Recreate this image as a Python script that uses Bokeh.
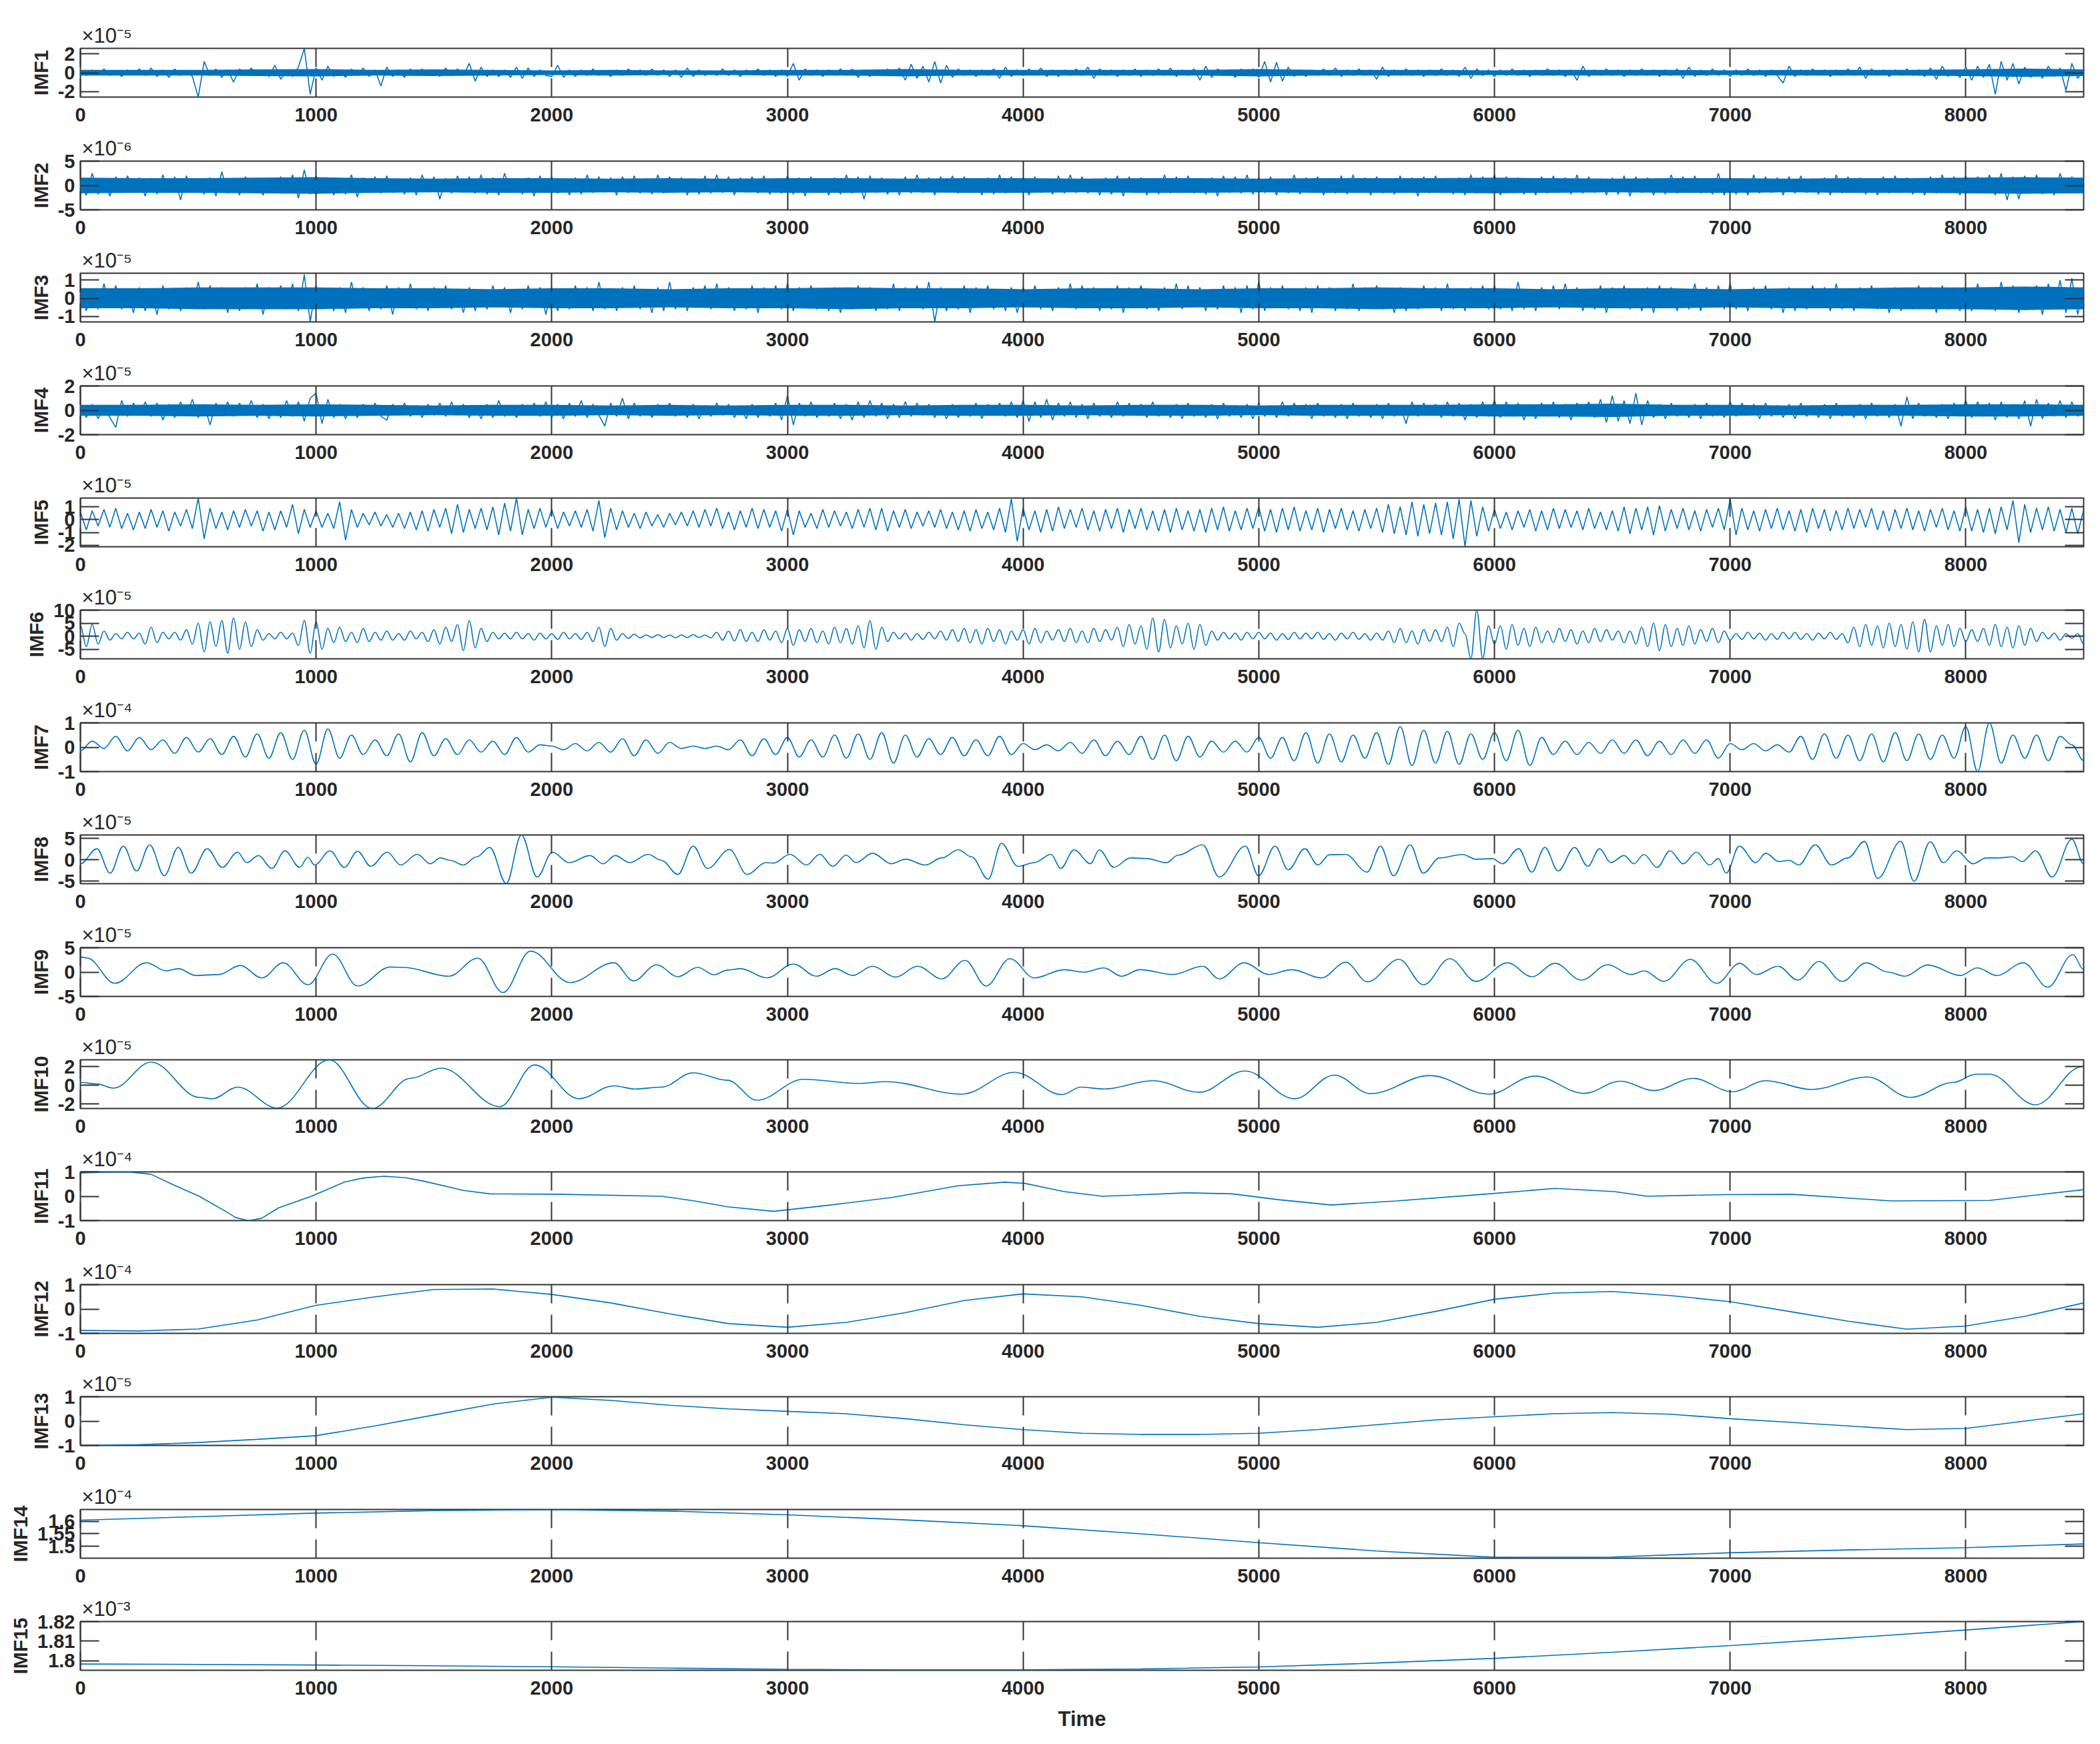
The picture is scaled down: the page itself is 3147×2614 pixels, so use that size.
from bokeh.plotting import figure
from bokeh.layouts import column
from bokeh.models import Range1d, FixedTicker, LinearAxis, Title, CustomJSTickFormatter
from bokeh.embed import file_html
from bokeh.resources import INLINE

# ---------------- data (display units; the exponent is shown above each panel) -------------
NAMES = ["IMF1", "IMF2", "IMF3", "IMF4", "IMF5", "IMF6", "IMF7", "IMF8", "IMF9", "IMF10",
         "IMF11", "IMF12", "IMF13", "IMF14", "IMF15"]
EXPONENTS = ["-5", "-6", "-5", "-5", "-5", "-5", "-4", "-5", "-5", "-5", "-4", "-4", "-5", "-4", "-3"]
Y_LIMITS = [(-2.6, 2.6), (-5, 5), (-1.3, 1.38), (-2, 2), (-2.12, 1.69), (-8.65, 10), (-1, 1),
            (-5.55, 5.8), (-5, 5), (-2.5, 2.75), (-1, 1), (-1, 1), (-1, 1), (1.4534, 1.6463),
            (1.7951, 1.82)]
Y_TICKS = [[-2, 0, 2], [-5, 0, 5], [-1, 0, 1], [-2, 0, 2], [-2, -1, 0, 1], [-5, 0, 5, 10],
           [-1, 0, 1], [-5, 0, 5], [-5, 0, 5], [-2, 0, 2], [-1, 0, 1], [-1, 0, 1], [-1, 0, 1],
           [1.5, 1.55, 1.6], [1.8, 1.81, 1.82]]
X_TICKS = [0, 1000, 2000, 3000, 4000, 5000, 6000, 7000, 8000]
X_MAX = 8500

# IMF1..IMF6: values every 25 samples, in tenths of the panel unit
IMF1_T = [2,-3,3,-2,4,-3,2,-4,3,-2, 4,-3,5,-4,3,-5,4,-3,2,-4, -26,12,-3,4,-5,3,-10,4,-3,5, -2,3,-4,8,-7,3,-4,6,26,-23,
          5,-8,7,-4,3,-5,4,-3,5,-4, 3,-14,6,-4,3,-5,4,-3,4,-3, 3,-4,5,-3,4,-3,10,-9,6,-4, 3,-4,3,-5,6,-6,5,-4,3,-3,
          -4,8,-5,3,-4,3,-3,4,-3,2, -4,3,-3,4,-2,3,-3,4,-3,3, -4,3,-5,5,-4,3,-3,2,-3,4, -3,3,-4,3,-2,4,-3,3,-4,3,
          -4,10,-8,4,-3,3,-4,3,-3,4, -3,4,-5,3,-4,3,-3,4,-3,5, -8,9,-6,7,-10,12,-11,8,-5,4, -3,3,-4,3,-3,4,-6,6,-4,3,
          -3,4,-3,5,-4,3,-4,3,-3,4, -3,6,-6,4,-3,3,-4,3,-3,4, -4,3,-3,4,-3,5,-4,3,-3,4, -8,7,-5,4,-3,3,-5,4,-3,4,
          -5,12,-10,11,-9,6,-4,3,-4,3, -3,4,-3,5,-4,3,-3,4,-3,3, -7,6,-4,3,-3,4,-3,3,-4,3, -3,4,-3,3,-4,6,-6,4,-3,3,
          -4,3,-3,4,-3,3,-4,3,-3,4, -3,3,-4,3,-8,7,-4,3,-3,4, -3,3,-4,3,-3,4,-3,3,-4,3, -3,4,-6,6,-4,3,-3,4,-3,3,
          -4,3,-3,4,-3,3,-4,3,-3,-11, 7,-4,3,-3,4,-3,3,-4,3,-3, 4,-3,6,-6,4,-3,3,-4,3,-3, 4,-3,3,-4,5,-7,7,-4,3,-5,
          6,-8,7,-5,9,-23,12,-8,10,-12, 6,-5,4,-6,7,-4,5,-19,10,-6, 3]
IMF2_T = [5,-20,25,-18,14,-22,18,-15,20,-12, 16,-22,15,-18,22,-14,18,-30,20,-15, 14,-18,16,-22,28,-16,14,-20,18,-14, 15,-20,12,-16,18,-15,22,-26,32,-18,
          20,-15,16,-20,14,-18,22,-24,16,-14, 18,-16,20,-15,14,-18,16,-20,22,-14, 18,-28,15,-16,20,-14,18,-16,22,-18, 16,-20,25,-15,14,-18,16,-22,20,-15,
          18,-16,14,-20,16,-18,22,-15,18,-14, 16,-20,18,-15,20,-16,14,-18,22,-16, 18,-15,16,-20,14,-18,20,-16,22,-15, 18,-20,16,-14,18,-16,20,-18,14,-16,
          20,-18,16,-22,18,-15,14,-20,16,-18, 22,-16,18,-28,20,-15,16,-18,14,-20, 18,-16,22,-15,16,-20,18,-14,20,-16, 18,-15,14,-20,16,-18,22,-16,18,-15,
          16,-20,18,-15,14,-18,20,-16,22,-15, 18,-16,14,-20,16,-18,20,-22,18,-15, 16,-20,14,-18,22,-16,18,-15,20,-16, 14,-18,16,-22,20,-15,18,-16,22,-18,
          16,-15,18,-20,14,-16,22,-18,16,-15, 18,-20,14,-16,20,-18,22,-15,16,-20, 18,-16,14,-18,20,-15,16,-22,18,-16, 20,-15,14,-18,16,-20,22,-16,18,-15,
          22,-20,18,-15,16,-18,14,-20,18,-16, 20,-15,16,-18,22,-16,18,-15,14,-20, 16,-18,20,-22,18,-15,16,-20,14,-18, 22,-16,18,-15,20,-16,14,-18,25,-20,
          16,-18,14,-20,22,-16,18,-15,16,-20, 18,-16,20,-15,14,-18,16,-20,22,-16, 18,-15,16,-18,14,-20,18,-16,20,-15, 16,-18,14,-20,18,-16,22,-15,18,-20,
          20,-16,18,-15,22,-20,25,-30,18,-28, 20,-16,22,-18,16,-20,25,-16,18,-15, 10]
IMF3_T = [6,-7,5,-6,8,-5,7,-6,5,-8, 6,-7,5,-9,7,-6,5,-7,6,-5, 9,-6,7,-5,6,-8,5,-7,6,-5, 8,-9,6,-5,7,-6,8,-7,13,-13,
          7,-6,5,-7,6,-8,9,-5,6,-7, 5,-6,7,-9,6,-5,8,-6,5,-7, 6,-5,7,-6,5,-8,6,-7,5,-6, 7,-5,6,-8,5,-6,7,-5,6,-9,
          6,-7,5,-6,7,-5,6,-7,9,-6, 5,-7,6,-5,7,-6,5,-8,6,-7, 9,-6,5,-7,6,-5,7,-6,8,-5, 6,-7,5,-6,7,-8,6,-5,7,-6,
          8,-7,6,-5,7,-6,5,-7,6,-8, 5,-6,7,-5,6,-7,5,-6,8,-7, 6,-5,7,-6,9,-13,6,-7,5,-6, 7,-8,6,-5,7,-6,5,-7,6,-8,
          6,-5,7,-6,5,-7,6,-5,8,-6, 7,-5,6,-7,5,-6,7,-8,6,-5, 7,-6,5,-7,6,-5,8,-6,7,-5, 6,-7,5,-6,7,-5,6,-8,7,-6,
          9,-7,6,-5,7,-6,5,-7,6,-8, 7,-5,6,-7,5,-6,8,-7,6,-5, 7,-6,5,-8,6,-7,5,-6,7,-5, 6,-7,8,-6,5,-7,6,-5,7,-6,
          7,-6,5,-7,9,-6,5,-7,6,-5, 7,-6,8,-5,6,-7,5,-6,7,-8, 6,-5,7,-6,5,-7,6,-8,7,-5, 6,-7,5,-6,8,-7,6,-5,7,-6,
          8,-6,5,-7,6,-5,7,-6,5,-8, 6,-7,5,-6,7,-5,6,-7,8,-6, 5,-7,6,-5,7,-6,5,-8,6,-7, 5,-6,7,-5,6,-8,7,-6,5,-7,
          6,-7,8,-6,5,-7,9,-6,7,-8, 6,-5,7,-9,8,-6,10,-8,11,-9, 6]
IMF4_T = [4,-6,5,-7,3,-6,-14,8,-5,6, -4,7,-5,6,-8,5,-6,7,-4,9, -6,5,-12,6,-4,7,-5,6,-4,8, -6,5,-7,4,-6,8,-5,7,-9,10,
          14,-11,9,-6,5,-7,4,-6,5,-4, 6,-5,-8,5,-4,6,-5,4,-6,5, -4,6,-5,7,-4,5,-6,4,-7,5, -6,8,-5,4,-6,5,-4,6,-5,7,
          -6,5,-7,6,-5,8,-6,5,-4,-13, 6,-5,10,-7,6,-5,4,-6,5,-4, 6,-5,4,-6,5,-7,4,-5,6,-4, 5,-6,4,-7,5,-6,4,-5,6,-8,
          12,-12,6,-5,7,-6,4,-5,6,-7, 5,-8,7,-6,8,-5,6,-7,5,-6, 7,-5,6,-4,5,-6,4,-7,5,-6, 4,-5,6,-7,5,-4,6,-5,7,-6,
          8,-9,7,-6,9,-8,6,-5,7,-6, 5,-7,6,-5,4,-6,7,-5,6,-4, 5,-6,7,-5,4,-6,5,-7,6,-5, 4,-6,5,-7,6,-5,4,-6,5,-7,
          6,-5,4,-6,7,-5,6,-4,5,-7, 6,-5,4,-6,5,-7,6,-5,4,-6, 5,-7,6,-5,4,-11,7,-5,6,-4, 5,-6,7,-5,6,-8,5,-6,7,-5,
          8,-6,7,-5,6,-8,5,-7,6,-5, 7,-6,5,-8,6,-5,7,-6,9,-10, 12,-9,8,-11,14,-12,8,-6,5,-7, 6,-5,4,-6,5,-7,6,-5,4,-6,
          7,-5,6,-4,5,-7,6,-5,4,-6, 5,-7,6,-5,4,-6,5,-7,6,-5, 4,-6,5,-7,6,-5,4,-6,5,-13, 11,-7,6,-5,4,-6,5,-7,6,-5,
          8,-6,7,-5,6,-8,7,-6,5,-7, 8,-13,9,-7,6,-5,8,-6,7,-5, 4]
IMF5_T = [6,-8,7,-5,8,-6,9,-7,5,-8, 6,-7,8,-6,7,-9,6,-5,8,-7, 17,-15,9,-7,6,-8,7,-6,8,-5, 7,-9,6,-8,7,-6,12,-11,8,-6,
          7,-6,5,-7,14,-16,8,-6,5,-4, 6,-5,4,-6,5,-7,6,-8,7,-9, 8,-6,9,-11,12,-10,8,-7,9,-8, 10,-12,13,-9,17,-12,8,-7,9,-6,
          8,-7,6,-5,7,-6,8,-9,15,-14, 9,-8,7,-6,5,-7,6,-5,4,-6, 5,-4,6,-5,7,-6,8,-5,9,-7, 6,-8,7,-6,9,-7,8,-6,7,-9,
          8,-12,7,-6,5,-7,8,-6,7,-5, 6,-7,8,-6,9,-8,9,-9,7,-6, 8,-7,6,-5,7,-6,8,-7,6,-8, 7,-9,8,-7,6,-8,9,-10,16,-17,
          9,-8,7,-10,8,-9,10,-7,8,-6, 9,-8,7,-9,8,-7,9,-10,8,-7, 9,-8,7,-9,8,-10,9,-8,7,-9, 8,-10,9,-8,10,-9,7,-8,9,-7,
          10,-9,8,-10,9,-8,10,-9,7,-8, 9,-10,8,-7,9,-8,7,-9,8,-7, 9,-10,12,-11,10,-12,14,-13,12,-11, 13,-12,14,-15,16,-21,15,-13,10,-9,
          8,-7,6,-8,7,-6,8,-9,7,-8, 9,-7,8,-6,7,-8,9,-7,6,-8, 7,-9,10,-11,9,-8,10,-12,11,-9, 8,-7,9,-8,7,-9,8,-6,9,-8,
          16,-12,9,-8,7,-9,8,-7,9,-8, 7,-9,8,-10,9,-7,8,-9,7,-8, 9,-7,8,-6,9,-8,7,-9,8,-7, 9,-8,7,-9,8,-6,9,-8,7,-9,
          10,-9,8,-10,9,-11,10,-8,15,-18, 12,-10,9,-8,10,-9,8,-10,9,-11, 8]
IMF6_T = [40,-40,45,-30,20,-15,10,-10,15,-10, 12,-30,35,-25,15,-10,15,-15,25,-30, 50,-60,55,-40,60,-65,70,-50,55,-40, 25,-15,10,-10,15,-10,12,-35,60,-65,
          55,-50,30,-25,35,-20,15,-25,30,-20, 15,-15,20,-15,10,-15,20,-10,15,-20, 25,-30,35,-20,45,-55,60,-45,30,-20, 15,-10,12,-10,15,-10,10,-15,12,-10,
          10,-12,15,-10,10,-12,15,-20,35,-40, 30,-15,10,-8,8,-6,5,-5,6,-5, 5,-6,5,-5,6,-5,5,-6,15,-15, 20,-18,25,-20,15,-20,25,-15,20,-25,
          30,-35,25,-20,30,-25,20,-30,35,-25, 30,-30,40,-45,60,-50,35,-20,15,-10, 12,-15,10,-12,15,-10,20,-15,25,-20, 30,-25,25,-30,30,-20,25,-30,20,-15,
          25,-30,30,-25,20,-15,25,-20,30,-25, 20,-25,30,-20,25,-15,35,-40,45,-30, 40,-50,70,-60,65,-45,40,-30,50,-50, 45,-35,20,-15,15,-10,12,-15,15,-10,
          15,-10,12,-15,10,-12,15,-10,12,-10, 15,-12,10,-15,12,-10,15,-12,10,-15, 12,-15,20,-25,30,-25,20,-30,25,-20, 25,-20,35,-40,50,10,-86,100,-86,40,
          -30,40,-50,45,-35,30,-40,35,-25,20, -25,30,-20,25,-30,20,-25,30,-20,25, -15,20,-25,20,-30,35,-40,50,-55,45, -40,30,-35,40,-30,25,-20,30,-25,20,
          -15,10,-12,15,-10,12,-15,10,-12,15, -10,15,-12,10,-15,12,-10,15,-12,10, -25,35,-40,45,-35,40,-45,50,-40,45, -50,55,-60,65,-60,40,-35,45,-40,30,
          -20,25,-20,30,-35,45,-40,35,-45,40, -35,30,-20,15,-10,12,-15,10,-8,10, -30]
# dense core of the noisy bands: half-width every 250 samples (panel units)
IMF1_CORE = [0.3,0.3,0.3,0.35,0.4,0.3,0.35,0.3,0.25,0.3,0.25,0.25,0.3,0.3,0.4,0.3,0.3,0.3,0.3,0.3,
             0.4,0.3,0.3,0.3,0.25,0.3,0.3,0.3,0.25,0.3,0.3,0.3,0.35,0.45,0.35]
IMF2_CORE = [1.6,1.5,1.5,1.6,1.7,1.5,1.4,1.5,1.5,1.4,1.5,1.4,1.5,1.5,1.4,1.5,1.5,1.4,1.5,1.5,
             1.4,1.5,1.5,1.5,1.6,1.5,1.4,1.5,1.5,1.4,1.5,1.5,1.6,1.7,1.6]
IMF3_CORE = [0.55,0.55,0.6,0.6,0.6,0.55,0.55,0.5,0.55,0.55,0.5,0.55,0.55,0.6,0.55,0.55,0.5,0.55,0.55,0.5,
             0.55,0.55,0.6,0.55,0.55,0.5,0.55,0.55,0.5,0.55,0.55,0.6,0.6,0.65,0.6]
IMF4_CORE = [0.45,0.45,0.5,0.45,0.5,0.45,0.4,0.45,0.45,0.4,0.45,0.4,0.45,0.45,0.4,0.45,0.45,0.4,0.45,0.45,
             0.4,0.45,0.45,0.45,0.5,0.5,0.55,0.45,0.45,0.4,0.45,0.45,0.5,0.5,0.45]
# IMF7: values every 50 samples, in hundredths
IMF7_H = [-15,25,-5,45,-15,40,-10,30,-25,40, -20,35,-30,45,-40,55,-45,60,-50,70,
          -70,75,-45,50,-30,30,-35,55,-60,60, -35,35,-30,30,-20,25,-30,40,-20,10,
          5,-10,15,-15,20,-20,35,-35,30,-25, 20,-5,5,-5,5,-10,30,-35,35,-30,
          40,-40,30,-40,50,-45,55,-50,60,-65, 50,-40,35,-30,40,-35,30,-35,45,-30,
          15,-10,10,-15,20,-25,30,-35,25,-30, 45,-50,50,-55,45,-40,25,-20,25,-20,
          40,-45,40,-55,60,-65,55,-60,50,-45, 60,-70,85,-75,70,-65,65,-70,55,-50,
          60,-55,70,-75,40,-30,25,-30,20,-25, 30,-25,30,-35,25,-30,30,-25,30,-45,
          15,-10,15,-15,10,-20,45,-50,55,-45, 50,-55,55,-60,60,-55,55,-50,50,-45,
          85,-100,100,-65,50,-45,50,-55,45,10,-55]
# IMF8-IMF11: turning points (sample, value)
IMF8_X = [0,70,126,182,238,294,356,415,470,538, 602,667,706,756,812,868,930,965,994,1059,
          1120,1176,1232,1302,1359,1429,1485,1527,1569,1625, 1681,1737,1807,1871,1938,2003,2073,2162,2218,2269,
          2331,2409,2465,2535,2600,2661,2754,2829,2908,2941, 3011,3081,3137,3193,3249,3291,3361,3440,3501,3585,
          3655,3725,3781,3852,3908,3978,4048,4118,4160,4216, 4286,4323,4385,4455,4525,4608,4658,4762,4832,4943,
          4999,5069,5125,5195,5251,5300,5368,5460,5516,5572, 5642,5698,5767,5865,5921,5991,6033,6103,6158,6214,
          6270,6340,6396,6446,6494,6550,6592,6634,6690,6745, 6801,6857,6913,6950,6983,7039,7109,7151,7207,7250,
          7291,7361,7430,7500,7570,7626,7724,7780,7849,7905, 7961,8031,8087,8140,8198,8240,8296,8366,8450,8500]
IMF8_V = [-0.9,2.6,-3.1,3.2,-2.6,3.5,-3.7,2.9,-3.1,2.6, -1.75,1.8,-0.65,1.0,-2.0,2.1,-1.75,0.6,-1.2,2.1,
          -1.75,2.0,-1.5,1.8,-1.2,1.3,-0.9,0.45,-0.1,-1.2, 0.7,2.9,-5.5,5.8,-4.0,1.8,-0.65,1.0,-0.9,1.0,
          -0.65,1.3,-0.1,-3.4,3.2,-2.0,2.4,-3.4,-0.65,-0.75, 1.3,-1.2,1.3,-1.5,1.1,-0.65,1.55,-0.9,0.15,-1.2,
          0.45,2.35,0.7,-4.5,3.85,-1.5,-0.65,1.3,-2.0,2.35, -0.9,2.35,-1.75,0.45,0.3,-0.65,1.1,3.5,-4.0,3.2,
          -3.7,3.2,-2.3,2.6,-1.2,1.2,1.26,-2.85,3.2,-3.7, 3.5,-3.1,0.45,1.26,0.15,0.3,-0.9,2.6,-2.85,2.9,
          -2.6,2.9,-1.5,2.6,-0.65,1.0,-0.9,1.26,-1.75,2.1, -0.9,1.8,-1.2,0.3,-3.1,3.2,-0.65,1.55,-0.4,-0.1,
          -1.2,3.5,-1.2,0.45,4.3,-4.3,4.3,-5.0,4.2,-0.65, 2.1,-0.9,0.45,0.45,0.7,-0.4,2.1,-4.0,4.8,-0.9]
IMF9_X = [0,28,146,280,364,415,490,588,678,770, 860,966,1070,1176,1316,1372,1563,1686,1793,1910,
          2078,2263,2347,2445,2535,2619,2689,2745,2801,2913, 3025,3123,3202,3277,3361,3459,3552,3655,3754,3843,
          3944,4048,4174,4258,4343,4418,4496,4636,4762,4832, 4938,5042,5140,5265,5369,5461,5595,5699,5810,5922,
          6056,6159,6257,6369,6481,6579,6635,6719,6831,6943, 7041,7111,7203,7287,7377,7475,7578,7670,7740,7838,
          7978,8048,8132,8244,8348,8454,8500]
IMF9_V = [3.1,2.9,-2.3,1.9,0.25,0.7,-0.7,-0.5,1.35,-1.2, 1.9,-2.6,3.7,-2.85,1.05,0.95,-0.85,2.85,-4.2,4.3,
          -2.15,1.9,-1.8,1.5,-0.95,0.95,-0.55,0.4,0.7,-1.2, 1.65,-0.85,0.7,-0.7,1.2,-1.05,1.2,-1.4,2.4,-2.85,
          2.75,-1.2,0.5,0.0,0.85,-0.85,0.5,-0.5,1.2,-1.4, 1.9,-0.5,0.5,-1.2,2.0,-2.0,2.6,-2.6,2.75,-1.9,
          1.9,-0.95,1.8,-1.65,1.5,-0.5,0.25,-1.9,2.6,-2.3, 1.8,-0.5,1.2,-1.65,2.15,-1.9,1.9,0.0,-0.85,1.45,
          -0.7,0.85,-0.7,1.9,-3.1,3.6,0.5]
IMF10_X = [0,70,140,300,505,560,667,835,1056,1238, 1400,1532,1779,1927,2115,2263,2353,2465,2600,2745,
           2871,3067,3305,3417,3740,3964,4165,4245,4343,4552, 4747,4942,5152,5320,5474,5725,5976,6172,6381,6535,
           6675,6843,7010,7150,7346,7583,7765,7946,8044,8100, 8296,8492]
IMF10_V = [0.3,0.15,-0.3,2.5,-1.3,-1.45,-0.2,-2.45,2.75,-2.5, 0.75,1.85,-2.3,2.2,-1.45,-0.05,-0.4,-0.2,1.35,0.55,
           -1.6,0.65,0.2,0.4,-0.95,1.4,-1.0,-0.2,-0.4,0.5, -0.75,1.55,-1.45,1.1,-0.9,1.05,-0.95,1.0,-0.87,0.45,
           -0.57,0.75,-0.7,0.5,-0.45,0.9,-1.3,0.3,1.2,1.2, -2.1,2.0]
IMF11_X = [0,100,200,300,392,504,616,660,714,770,840,980,1120,1200,1289,1380,1457,1625,1737,2045,2465,2605,
           2745,2941,3165,3445,3725,3922,4006,4174,4336,4469,4692,4887,5083,5307,5586,5977,6257,6508,6648,
           6983,7263,7682,8101,8296,8500]
IMF11_V = [0.95,0.99,1.0,0.9,0.48,0.0,-0.62,-0.88,-1.0,-0.9,-0.48,0.0,0.58,0.75,0.82,0.76,0.62,0.24,0.1,0.08,0.0,-0.19,
           -0.43,-0.62,-0.38,-0.05,0.43,0.58,0.53,0.19,0.0,0.05,0.14,0.1,-0.14,-0.36,-0.19,0.1,0.32,0.19,0.0,
           0.07,0.08,-0.19,-0.17,0.05,0.27]
# IMF12, IMF13: every 250 samples; IMF14, IMF15: every 500 samples
IMF12_V = [-0.88,-0.9,-0.82,-0.45,0.15,0.5,0.8,0.82,0.6,0.25,-0.2,-0.6,-0.75,-0.55,-0.15,0.35,0.62,0.5,
           0.15,-0.3,-0.6,-0.75,-0.55,-0.1,0.4,0.65,0.72,0.55,0.3,-0.1,-0.5,-0.83,-0.7,-0.3,0.25]
IMF13_V = [-1.0,-0.97,-0.88,-0.75,-0.6,-0.2,0.25,0.7,0.98,0.85,0.65,0.5,0.4,0.3,0.1,-0.15,-0.35,-0.5,
           -0.55,-0.55,-0.5,-0.35,-0.15,0.05,0.18,0.3,0.35,0.28,0.1,-0.05,-0.2,-0.35,-0.3,0.0,0.3]
IMF14_V = [1.604,1.618,1.632,1.642,1.646,1.640,1.625,1.605,1.582,1.550,1.515,1.482,1.457,1.458,1.475,
           1.486,1.495,1.510]
IMF15_V = [1.7983,1.7981,1.7978,1.7974,1.7969,1.7962,1.7956,1.7953,1.7953,1.7958,1.7968,1.7988,1.8012,
           1.8043,1.8077,1.8116,1.8157,1.8200]


def regular(values, step, scale=1.0):
    return [i * step for i in range(len(values))], [v * scale for v in values]


# (xs, ys, drawing mode)  "line" = straight segments, "wave" = smooth half-waves between turning points
SERIES = [
    regular(IMF1_T, 25, 0.1) + ("line",), regular(IMF2_T, 25, 0.1) + ("line",),
    regular(IMF3_T, 25, 0.1) + ("line",), regular(IMF4_T, 25, 0.1) + ("line",),
    regular(IMF5_T, 25, 0.1) + ("line",), regular(IMF6_T, 25, 0.1) + ("wave",),
    regular(IMF7_H, 50, 0.01) + ("wave",), (IMF8_X, IMF8_V, "wave"), (IMF9_X, IMF9_V, "wave"),
    (IMF10_X, IMF10_V, "wave"), (IMF11_X, IMF11_V, "line"), regular(IMF12_V, 250) + ("line",),
    regular(IMF13_V, 250) + ("line",), regular(IMF14_V, 500) + ("line",),
    regular(IMF15_V, 500) + ("line",),
]
CORES = {0: IMF1_CORE, 1: IMF2_CORE, 2: IMF3_CORE, 3: IMF4_CORE}

# ---------------- layout & style ----------------
FONT = "Liberation Sans"
BLUE = "#0072BD"
BOX = "#333333"
TXT = "#262626"
W = 3131
LEFT = 120
FRAME_W = 3002
FRAME_H = 73
RIGHT = W - LEFT - FRAME_W
TOP_B = 44

frame_tops = [round(72.3 + 168.4 * i) for i in range(15)]
fig_tops = [0] + [t - TOP_B for t in frame_tops[1:]]
fig_bottoms = fig_tops[1:] + [2600]

num_fmt = CustomJSTickFormatter(code="return String(Math.round(tick*1000)/1000);")
SUP = {"-": "\u207b", "3": "\u00b3", "4": "\u2074", "5": "\u2075", "6": "\u2076"}


def style_axis(ax):
    ax.axis_line_color = None
    ax.major_tick_in = 28
    ax.major_tick_out = 0
    ax.minor_tick_line_color = None
    ax.major_tick_line_color = BOX
    ax.major_tick_line_width = 2
    ax.major_label_text_font = FONT
    ax.major_label_text_font_size = "29px"
    ax.major_label_text_font_style = "bold"
    ax.major_label_text_color = TXT


def bare_axis(ticks):
    ax = LinearAxis(ticker=FixedTicker(ticks=ticks),
                    formatter=CustomJSTickFormatter(code="return '';"))
    style_axis(ax)
    ax.major_label_text_font_size = "1px"
    ax.major_label_standoff = 0
    return ax


figs = []
for i in range(15):
    h = fig_bottoms[i] - fig_tops[i]
    bt = frame_tops[i] - fig_tops[i]
    bb = h - bt - FRAME_H
    ylo, yhi = Y_LIMITS[i]
    p = figure(width=W, height=h, output_backend="svg", toolbar_location=None, tools="",
               title=None, x_range=Range1d(0, X_MAX), y_range=Range1d(ylo, yhi),
               min_border_left=LEFT, min_border_right=RIGHT,
               min_border_top=bt, min_border_bottom=bb)
    p.grid.visible = False
    p.outline_line_color = BOX
    p.outline_line_width = 2
    p.background_fill_color = "white"
    p.border_fill_color = "white"

    xs, ys, mode = SERIES[i]
    if i in CORES:
        core = CORES[i]
        cx = [250 * k for k in range(len(core))]
        p.varea(x=cx, y1=[-c for c in core], y2=core, fill_color=BLUE, fill_alpha=1.0)
    if mode == "line":
        p.line(xs, ys, line_color=BLUE, line_width=1.6)
    else:
        x0, x1 = xs[:-1], xs[1:]
        y0, y1 = ys[:-1], ys[1:]
        k = 0.36
        p.bezier(x0=x0, y0=y0, x1=x1, y1=y1,
                 cx0=[a + k * (b - a) for a, b in zip(x0, x1)], cy0=y0,
                 cx1=[b - k * (b - a) for a, b in zip(x0, x1)], cy1=y1,
                 line_color=BLUE, line_width=1.6)

    xa = p.xaxis[0]
    style_axis(xa)
    xa.ticker = FixedTicker(ticks=X_TICKS)
    xa.major_label_standoff = 16
    ya = p.yaxis[0]
    style_axis(ya)
    ya.ticker = FixedTicker(ticks=Y_TICKS[i])
    ya.formatter = num_fmt
    ya.major_label_standoff = 8
    ya.axis_label = NAMES[i]
    ya.axis_label_text_font = FONT
    ya.axis_label_text_font_size = "30px"
    ya.axis_label_text_font_style = "bold"
    ya.axis_label_text_color = TXT
    ya.axis_label_standoff = 6

    p.add_layout(bare_axis(X_TICKS), "above")
    p.add_layout(bare_axis(Y_TICKS[i]), "right")
    exp_text = "\u00d710" + "".join(SUP[c] for c in EXPONENTS[i])
    p.add_layout(Title(text=exp_text, align="left", offset=2, standoff=3,
                       text_font=FONT, text_font_size="31px", text_font_style="normal",
                       text_color=TXT), "above")

    if i == 14:
        xa.axis_label = "Time"
        xa.axis_label_text_font = FONT
        xa.axis_label_text_font_size = "31px"
        xa.axis_label_text_font_style = "bold"
        xa.axis_label_text_color = TXT
        xa.axis_label_standoff = 16
    figs.append(p)

layout = column(*figs, spacing=0)
open("out.html", "w").write(file_html(layout, INLINE))
